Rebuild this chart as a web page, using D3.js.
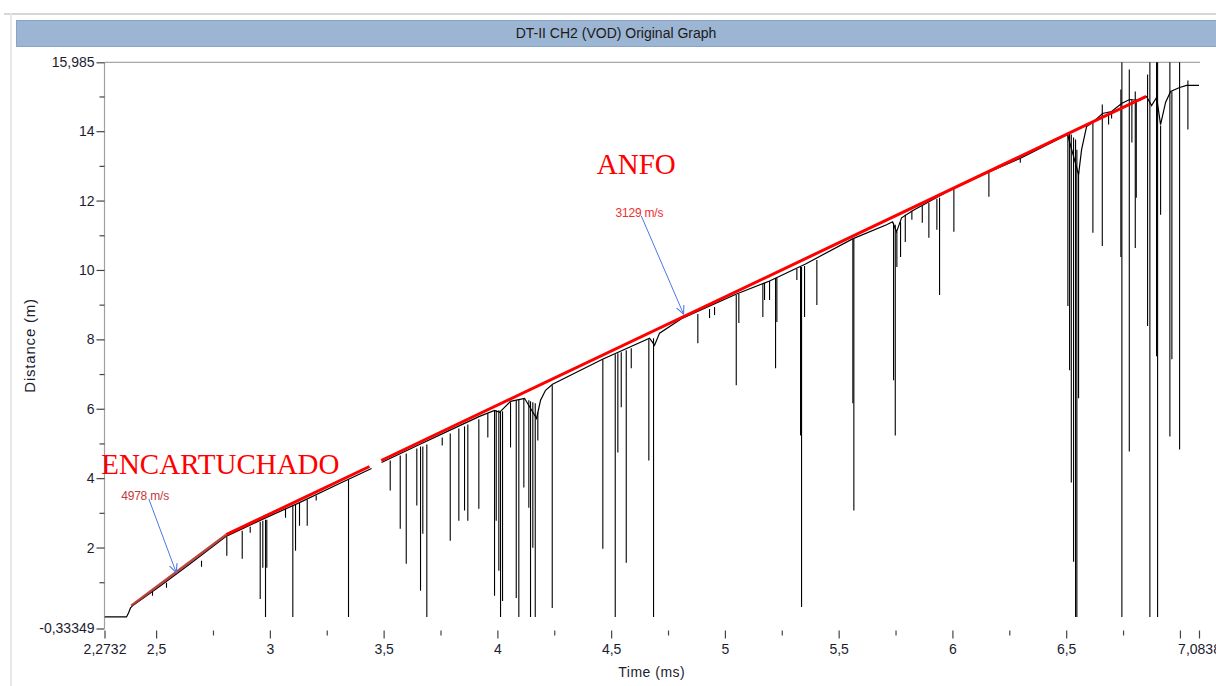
<!DOCTYPE html>
<html><head><meta charset="utf-8">
<script src="https://cdn.jsdelivr.net/npm/d3@7"></script>
<style>
html,body{margin:0;padding:0;background:#fff;}
svg{display:block;}
</style></head><body>
<svg id="chart" width="1216" height="686"></svg>
<script>
// ---------- data ----------
const chartTitle = "DT-II CH2 (VOD) Original Graph";
const xLabel = "Time (ms)";
const yLabel = "Distance (m)";
const xDomain = [2.2732, 7.0838];
const yDomain = [-0.33349, 15.985];
const xTickValues = [2.2732, 2.5, 3, 3.5, 4, 4.5, 5, 5.5, 6, 6.5, 7, 7.0838];
const xTickLabels = ["2,2732", "2,5", "3", "3,5", "4", "4,5", "5", "5,5", "6", "6,5", "", "7,0838"];
const xMinorTicks = [2.75, 3.25, 3.75, 4.25, 4.75, 5.25, 5.75, 6.25, 6.75];
const yTickValues = [-0.33349, 2, 4, 6, 8, 10, 12, 14, 15.985];
const yTickLabels = ["-0,33349", "2", "4", "6", "8", "10", "12", "14", "15,985"];
const yMinorTicks = [1, 3, 5, 7, 9, 11, 13, 15];

// measured trace (base line, two pieces)
const traceEncTime = [2.2732, 2.3699, 2.3787, 2.3875, 2.4007, 2.5150, 2.6468, 2.8095, 2.9545, 3.1303, 3.3062, 3.4468];
const traceEncDist = [0, 0, 0.116, 0.26, 0.347, 0.88, 1.52, 2.33, 2.775, 3.295, 3.844, 4.277];
const traceAnfoTime = [3.4908, 3.6578, 3.7897, 3.9215, 3.9875, 4.0095, 4.0578, 4.1193, 4.1721, 4.1897, 4.2116, 4.2424, 4.4622, 4.6688, 4.6908, 4.7128, 4.8139, 5.0512, 5.1963, 5.3545, 5.5611, 5.7105, 5.7369, 5.7545, 5.7765, 5.8248, 6.0007, 6.1633, 6.2951, 6.5061, 6.5545, 6.5677, 6.5896, 6.6160, 6.6600, 6.6995, 6.7435, 6.7787, 6.8226, 6.8534, 6.8754, 6.8974, 6.9149, 6.9369, 6.9589, 6.9985, 7.0292, 7.0838];
const traceAnfoDist = [4.451, 4.971, 5.376, 5.780, 5.954, 5.896, 6.214, 6.301, 5.723, 6.243, 6.532, 6.705, 7.428, 8.035, 7.832, 8.179, 8.613, 9.306, 9.682, 10.173, 10.896, 11.301, 11.387, 11.098, 11.503, 11.705, 12.341, 12.832, 13.208, 13.902, 12.746, 13.468, 14.133, 14.249, 14.509, 14.566, 14.798, 14.913, 14.884, 15.000, 14.740, 14.971, 14.191, 14.827, 15.145, 15.260, 15.318, 15.318];

// downward spikes of the trace: time, top, bottom
const spikeTime = [2.4842, 2.5457, 2.6996, 2.8108, 2.8785, 2.9136, 2.9576, 2.9690, 2.9809, 2.9866, 3.0688, 3.1009, 3.1128, 3.1303, 3.1642, 3.2037, 3.3457,
  3.5290, 3.5730, 3.5994, 3.6459, 3.6622, 3.6723, 3.6899, 3.7576, 3.7928, 3.8306, 3.8556, 3.8701, 3.9185, 3.9580, 3.9875, 3.9949, 4.0064, 4.0139, 4.0227,
  4.0578, 4.0829, 4.0943, 4.1163, 4.1383, 4.1457, 4.1558, 4.1664, 4.1778, 4.2411, 4.4635, 4.5180, 4.5295, 4.5444, 4.5664, 4.5884, 4.6657, 4.6864,
  4.8811, 4.9325, 4.9545, 5.0499, 5.0613, 5.1668, 5.1743, 5.1963, 5.2227, 5.2284, 5.3163, 5.3325, 5.3369, 5.3501, 5.4042, 5.5624, 5.5668,
  5.7413, 5.7488, 5.7558, 5.7721, 5.7928, 5.8218, 5.8675, 5.8965, 5.9317, 5.9435, 6.0064, 6.1603, 6.2983,
  6.5075, 6.5150, 6.5225, 6.5325, 6.5413, 6.5470, 6.5545, 6.6174, 6.6587, 6.6864, 6.6996, 6.7404, 6.7448, 6.7774, 6.7888, 6.8037, 6.8081,
  6.8578, 6.8679, 6.8973, 6.9018, 6.9150, 6.9558, 6.9646, 6.9985, 7.0350];
const spikeTop = [0.780, 0.983, 1.618, 2.312, 2.486, 2.601, 2.746, 2.775, 2.803, 2.803, 3.121, 3.208, 3.237, 3.295, 3.382, 3.497, 3.960,
  4.509, 4.653, 4.711, 4.855, 4.913, 4.913, 4.971, 5.173, 5.289, 5.434, 5.491, 5.549, 5.694, 5.867, 5.954, 5.954, 5.954, 5.925, 5.925,
  6.185, 6.243, 6.272, 6.301, 6.243, 6.214, 6.185, 6.156, 5.896, 6.676, 7.428, 7.572, 7.601, 7.630, 7.688, 7.746, 8.006, 8.035,
  8.728, 8.873, 8.931, 9.277, 9.306, 9.595, 9.624, 9.682, 9.769, 9.769, 10.029, 10.087, 10.087, 10.116, 10.289, 10.896, 10.896,
  11.358, 11.301, 11.098, 11.387, 11.590, 11.705, 11.850, 11.936, 12.052, 12.081, 12.341, 12.832, 13.208,
  13.931, 13.931, 13.902, 13.815, 13.757, 13.468, 12.832, 14.249, 14.769, 14.538, 14.566, 15.202, 16.0, 15.780, 14.913, 15.145, 14.913,
  15.636, 16.0, 16.0, 16.0, 14.162, 16.0, 15.145, 16.0, 15.462];
const spikeBottom = [0.607, 0.838, 1.445, 1.763, 1.676, 2.428, 0.520, 1.416, 0, 1.416, 2.861, 0, 1.908, 2.630, 2.630, 3.353, 0,
  3.642, 2.543, 1.532, 3.208, 0.751, 2.399, 0, 4.942, 2.197, 2.775, 3.064, 2.775, 3.121, 5.173, 0.607, 2.775, 1.329, 0, 0.462,
  4.884, 0.549, 0, 3.728, 3.150, 0, 1.994, 0, 5.087, 0.260, 1.965, 0, 4.740, 6.040, 1.561, 7.168, 4.509, 0,
  7.890, 8.613, 8.699, 6.676, 8.468, 8.642, 9.133, 9.133, 7.168, 8.497, 9.711, 5.231, 0.289, 8.642, 8.988, 6.156, 3.064,
  6.821, 5.231, 10.087, 10.376, 10.809, 11.445, 11.358, 10.925, 11.156, 9.277, 11.098, 12.110, 13.092,
  8.960, 7.110, 3.873, 1.590, 0, 0, 6.301, 11.069, 10.694, 14.191, 14.364, 10.376, 0, 4.769, 13.671, 10.636, 12.081,
  8.382, 0, 7.514, 0, 11.590, 5.202, 7.428, 4.827, 14.046];

// fitted velocity lines
const fitEncTime = [2.3906, 2.808];
const fitEncDist = [0.32, 2.37];
const fitAnfoTimeA = [2.808, 3.438];
const fitAnfoDistA = [2.37, 4.335];
const fitAnfoTimeB = [3.4895, 6.852];
const fitAnfoDistB = [4.509, 15.0];

// annotations
const bigLabels = ["ENCARTUCHADO", "ANFO"];
const bigLabelTime = [2.2587, 4.4372];
const bigLabelDist = [4.124, 12.766];
const speedLabels = ["4978 m/s", "3129 m/s"];
const speedLabelTime = [2.3466, 4.5194];
const speedLabelDist = [3.497, 11.656];
const arrowFromTime = [2.4679, 4.6323];
const arrowFromDist = [3.402, 11.561];
const arrowToTime = [2.5884, 4.8183];
const arrowToDist = [1.280, 8.728];

// ---------- drawing ----------
const W = 1216, H = 686;
const svg = d3.select("#chart");
const plot = {left: 104.5, right: 1199, top: 62.3, bottom: 628.5};
const x = d3.scaleLinear().domain(xDomain).range([plot.left, plot.right]);
const y = d3.scaleLinear().domain(yDomain).range([plot.bottom, plot.top]);
const FONT = "'Liberation Sans', Arial, sans-serif";

// panel frame
svg.append("line").attr("x1", 4).attr("x2", W).attr("y1", 14).attr("y2", 14)
  .attr("stroke", "#d6d6d6").attr("stroke-width", 2);
svg.append("line").attr("x1", 11).attr("x2", 11).attr("y1", 14).attr("y2", H)
  .attr("stroke", "#e8e8e8").attr("stroke-width", 2);

// title bar
svg.append("rect").attr("x", 16.5).attr("y", 20.5).attr("width", 1205).attr("height", 26)
  .attr("fill", "#9cb5d3").attr("stroke", "#8aa4c6");
svg.append("text").attr("x", 616).attr("y", 33.5).attr("dy", "0.35em")
  .attr("text-anchor", "middle").attr("font-family", FONT).attr("font-size", 14)
  .attr("fill", "#1a1a1a").text(chartTitle);

// plot frame lines
svg.append("line").attr("x1", plot.left).attr("x2", plot.right + 1).attr("y1", plot.top).attr("y2", plot.top)
  .attr("stroke", "#a8a8a8").attr("stroke-width", 1.2);
svg.append("line").attr("x1", plot.left).attr("x2", plot.left).attr("y1", plot.top).attr("y2", plot.bottom)
  .attr("stroke", "#a0a0a0").attr("stroke-width", 1.2);

// y axis
const yAxis = d3.axisLeft(y).tickValues(yTickValues).tickFormat((d, i) => yTickLabels[i])
  .tickSize(8).tickPadding(2);
const gy = svg.append("g").attr("transform", `translate(${plot.left},0)`).call(yAxis);
gy.select(".domain").remove();
gy.selectAll("line").attr("stroke", "#444").attr("stroke-width", 1.2);
gy.selectAll("text").attr("font-family", FONT).attr("font-size", 14).attr("fill", "#1c1c30");
const gyMinor = svg.append("g").attr("transform", `translate(${plot.left},0)`)
  .call(d3.axisLeft(y).tickValues(yMinorTicks).tickFormat("").tickSize(5));
gyMinor.select(".domain").remove();
gyMinor.selectAll("line").attr("stroke", "#444").attr("stroke-width", 1.2);

// x axis
const xAxis = d3.axisBottom(x).tickValues(xTickValues).tickFormat((d, i) => xTickLabels[i])
  .tickSize(8).tickPadding(6);
const gx = svg.append("g").attr("transform", `translate(0,${plot.bottom + 2})`).call(xAxis);
gx.select(".domain").remove();
gx.selectAll("line").attr("stroke", "#444").attr("stroke-width", 1.2);
gx.selectAll("text").attr("font-family", FONT).attr("font-size", 14).attr("fill", "#1c1c30");
const gxMinor = svg.append("g").attr("transform", `translate(0,${plot.bottom + 2})`)
  .call(d3.axisBottom(x).tickValues(xMinorTicks).tickFormat("").tickSize(5));
gxMinor.select(".domain").remove();
gxMinor.selectAll("line").attr("stroke", "#444").attr("stroke-width", 1.2);

// axis titles
svg.append("text").attr("x", (plot.left + plot.right) / 2).attr("y", 677)
  .attr("text-anchor", "middle").attr("font-family", FONT).attr("font-size", 14)
  .attr("letter-spacing", 0.5).attr("fill", "#1c1c30").text(xLabel);
svg.append("text").attr("transform", `translate(35,${(plot.top + plot.bottom) / 2}) rotate(-90)`)
  .attr("text-anchor", "middle").attr("font-family", FONT).attr("font-size", 15)
  .attr("letter-spacing", 0.8).attr("fill", "#1c1c30").text(yLabel);

// clip
svg.append("clipPath").attr("id", "plotClip").append("rect")
  .attr("x", plot.left).attr("y", plot.top).attr("width", plot.right - plot.left + 2).attr("height", plot.bottom - plot.top);
const gData = svg.append("g").attr("clip-path", "url(#plotClip)");

const line = d3.line().x(d => x(d[0])).y(d => y(d[1]));
const traceEnc = traceEncTime.map((t, i) => [t, traceEncDist[i]]);
const traceAnfo = traceAnfoTime.map((t, i) => [t, traceAnfoDist[i]]);

// spikes
gData.append("g").selectAll("line").data(spikeTime).join("line")
  .attr("x1", d => x(d)).attr("x2", d => x(d))
  .attr("y1", (d, i) => y(spikeTop[i])).attr("y2", (d, i) => y(spikeBottom[i]))
  .attr("stroke", "#000").attr("stroke-width", 1.1);

// trace
[traceEnc, traceAnfo].forEach(tr => {
  gData.append("path").datum(tr).attr("d", line).attr("fill", "none")
    .attr("stroke", "#000").attr("stroke-width", 1.2);
});

// fits
gData.append("path").datum(fitEncTime.map((t, i) => [t, fitEncDist[i]])).attr("d", line)
  .attr("stroke", "#b2322c").attr("stroke-width", 2.6).attr("fill", "none").attr("opacity", 0.9);
gData.append("path").datum(fitAnfoTimeA.map((t, i) => [t, fitAnfoDistA[i]])).attr("d", line)
  .attr("stroke", "#ff0000").attr("stroke-width", 3).attr("fill", "none");
gData.append("path").datum(fitAnfoTimeB.map((t, i) => [t, fitAnfoDistB[i]])).attr("d", line)
  .attr("stroke", "#ff0000").attr("stroke-width", 3).attr("fill", "none");

// arrows
const defs = svg.append("defs");
defs.append("marker").attr("id", "arrowHead").attr("viewBox", "0 0 10 10")
  .attr("refX", 9.5).attr("refY", 5).attr("markerWidth", 9).attr("markerHeight", 9)
  .attr("markerUnits", "userSpaceOnUse").attr("orient", "auto")
  .append("path").attr("d", "M0,0.5 L9.5,5 L0,9.5").attr("fill", "none")
  .attr("stroke", "#4a78e6").attr("stroke-width", 1.2);
arrowFromTime.forEach((t, i) => {
  svg.append("line").attr("x1", x(t)).attr("y1", y(arrowFromDist[i]))
    .attr("x2", x(arrowToTime[i])).attr("y2", y(arrowToDist[i]))
    .attr("stroke", "#4a78e6").attr("stroke-width", 1).attr("marker-end", "url(#arrowHead)");
});

// speed labels
const speedColors = ["#c03a3a", "#ee3030"];
speedLabels.forEach((s, i) => {
  svg.append("text").attr("x", x(speedLabelTime[i])).attr("y", y(speedLabelDist[i])).attr("dy", "0.35em")
    .attr("font-family", FONT).attr("font-size", 12).attr("fill", speedColors[i])
    .attr("letter-spacing", -0.2).text(s);
});

// big labels
bigLabels.forEach((s, i) => {
  svg.append("text").attr("x", x(bigLabelTime[i])).attr("y", y(bigLabelDist[i]))
    .attr("font-family", "'Liberation Serif', 'Times New Roman', serif").attr("font-size", 29)
    .attr("fill", "#ff0000").text(s);
});
</script>
</body></html>
